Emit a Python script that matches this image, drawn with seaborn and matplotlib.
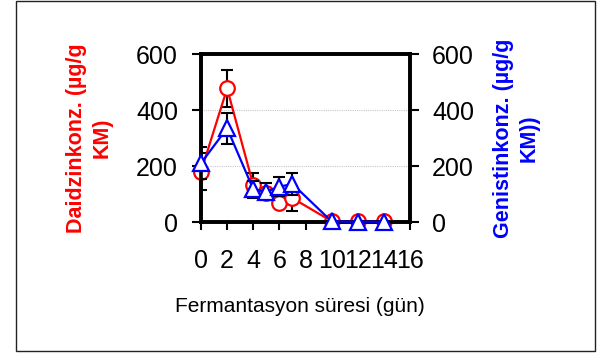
import matplotlib
matplotlib.use("Agg")
import matplotlib.pyplot as plt
import seaborn as sns
from matplotlib.patches import Rectangle

# Fermentation time (days) and isoflavone concentrations (µg/g KM)
days = [0, 2, 4, 5, 6, 7, 10, 12, 14]
daidzin = [180, 477, 132, 102, 69, 85, 3, 2, 2]
daidzin_err = [66, 66, 42, 20, 15, 45, 2, 1, 1]
genistin = [210, 335, 117, 108, 126, 136, 2, 1, 1]
genistin_err = [57, 55, 30, 30, 34, 40, 1, 1, 1]

x_ticks = [0, 2, 4, 6, 8, 10, 12, 14, 16]
y_ticks = [0, 200, 400, 600]

sns.set_theme(style="white")
plt.rcParams["font.family"] = ["Liberation Sans", "DejaVu Sans"]

fig = plt.figure(figsize=(5.97, 3.56), dpi=100)
W, H = 597, 356
ax = fig.add_axes([201 / W, (H - 222) / H, 209 / W, 168 / H])
ax2 = ax.twinx()

# dotted reference lines
for v in (200, 400):
    ax.axhline(v, color="#c8c8c8", lw=0.8, ls=(0, (1, 1)), zorder=0)

# error bars
ax.errorbar(days, daidzin, yerr=daidzin_err, fmt="none", ecolor="black",
            elinewidth=1.5, capsize=4.5, capthick=1.5, zorder=1)
ax2.errorbar(days, genistin, yerr=genistin_err, fmt="none", ecolor="black",
             elinewidth=1.5, capsize=4.5, capthick=1.5, zorder=1)

# series
sns.lineplot(x=days, y=daidzin, ax=ax, color="red", lw=1.6, marker="o",
             markersize=10.5, markerfacecolor="white", markeredgecolor="red",
             markeredgewidth=1.6, zorder=3, clip_on=False)
sns.lineplot(x=days, y=genistin, ax=ax2, color="blue", lw=1.6, marker="^",
             markersize=11, markerfacecolor="white", markeredgecolor="blue",
             markeredgewidth=1.6, zorder=3, clip_on=False)

for a in (ax, ax2):
    a.set_xlim(0, 16)
    a.set_ylim(0, 600)
    a.set_yticks(y_ticks)
    for s in a.spines.values():
        s.set_linewidth(2.6)
        s.set_color("black")
    a.grid(False)

ax.set_xticks(x_ticks)
ax.set_xticklabels([str(t) for t in x_ticks])
ax.tick_params(axis="x", direction="out", length=5.5, width=1.5, pad=14,
               labelsize=18, colors="black", bottom=True)
ax.tick_params(axis="y", direction="out", length=6.5, width=1.5, pad=10,
               labelsize=18, colors="black", left=True)
ax2.tick_params(axis="y", direction="out", length=6.5, width=1.5, pad=9.5,
                labelsize=18, colors="black", right=True)

ax.set_ylabel("Daidzinkonz. (µg/g\nKM)", color="red", fontsize=15.5,
              fontweight="bold", multialignment="center", linespacing=1.3)
ax.yaxis.set_label_coords(-0.535, 0.5)
ax2.set_ylabel("Genistinkonz. (µg/g\nKM))", color="blue", fontsize=15.5,
               fontweight="bold", multialignment="center", linespacing=1.3,
               rotation=90)
ax2.yaxis.set_label_coords(1.507, 0.5)
ax2.yaxis.label.set_verticalalignment("center")
ax.yaxis.label.set_verticalalignment("center")

fig.text(300 / W, 1 - 307 / H, "Fermantasyon süresi (gün)", ha="center",
         va="center", fontsize=15, color="black")

# outer frame
fig.patches.append(Rectangle((15.5 / W, 5.5 / H), 579 / W, 349.5 / H,
                             transform=fig.transFigure, fill=False,
                             edgecolor="#222222", lw=1.0))

fig.savefig("out.png", dpi=100)
